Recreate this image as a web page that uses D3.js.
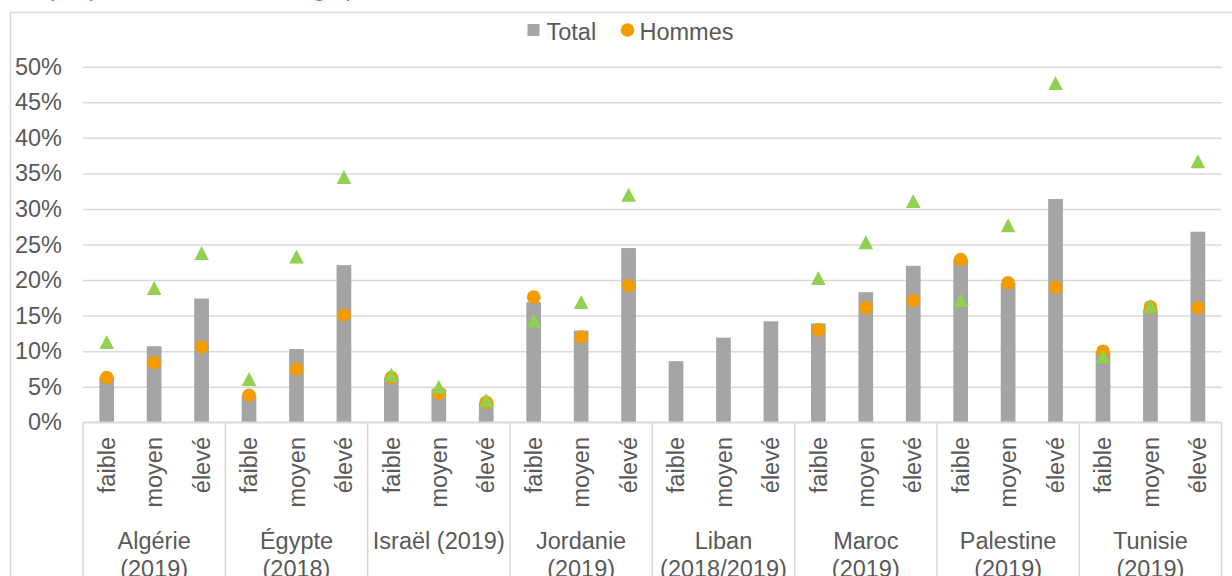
<!DOCTYPE html>
<html>
<head>
<meta charset="utf-8">
<script src="https://cdn.jsdelivr.net/npm/d3@7.9.0/dist/d3.min.js"></script>
<style>
  body { margin: 0; background: #fff; }
  svg { display: block; font-family: "Liberation Sans", Arial, sans-serif; }
  text { fill: #595959; }
</style>
</head>
<body>
<svg id="chart" width="1232" height="576"></svg>
<script>
// data (percent)
let countries = ["Algérie (2019)", "Égypte (2018)", "Israël (2019)", "Jordanie (2019)",
                 "Liban (2018/2019)", "Maroc (2019)", "Palestine (2019)", "Tunisie (2019)"];
let levels = ["faible", "moyen", "élevé"];

let total = [
    [6.4, 10.7, 17.4], [3.8, 10.3, 22.1], [6.3, 4.7, 2.8], [16.9, 12.9, 24.5],
    [8.6, 11.9, 14.2], [13.9, 18.3, 22.0], [22.9, 19.6, 31.4], [9.9, 15.9, 26.8]
];
let hommes = [
    [6.3, 8.4, 10.6], [3.8, 7.5, 15.1], [6.3, 4.1, 2.8], [17.6, 12.0, 19.2],
    [null, null, null], [13.0, 16.1, 17.1], [22.9, 19.6, 19.0], [10.0, 16.2, 16.1]
];
let femmes = [
    [11.3, 18.9, 23.8], [6.1, 23.3, 34.5], [6.7, 5.0, 3.1], [14.3, 16.9, 32.0],
    [null, null, null], [20.3, 25.3, 31.1], [17.2, 27.7, 47.7], [9.3, 16.4, 36.7]
];
let yTicks = [0, 5, 10, 15, 20, 25, 30, 35, 40, 45, 50];

let fontSize = 23.5;
let grid = "#d9d9d9";
let gray = "#a5a5a5", orange = "#f39c00", green = "#92d050";

let svg = d3.select("#chart");

// frame of the chart area (only top and left edges are visible)
svg.append("path")
    .attr("d", "M10.5,600 V12.5 H1240")
    .attr("fill", "none")
    .attr("stroke", grid)
    .attr("stroke-width", 1.5);

// title, cut off above the picture
svg.append("text")
    .attr("x", 12).attr("y", -4.5)
    .attr("font-size", 23)
    .style("fill", "#e8418b")
    .text("Graphique 3 : Taux de chômage par niveau d'éducation");

let plotLeft = 83, plotRight = 1221.6, plotTop = 66.7, plotBottom = 422.3;

let x0 = d3.scaleBand().domain(countries).range([plotLeft, plotRight]).padding(0);
let x1 = d3.scaleBand().domain(levels).range([0, x0.bandwidth()]).padding(0);
let y = d3.scaleLinear().domain([0, 50]).range([plotBottom, plotTop]);
let barW = x1.bandwidth() * 0.31;

// y axis with gridlines
let yAxis = d3.axisLeft(y)
    .tickValues(yTicks)
    .tickFormat(d => d + "%")
    .tickSizeInner(-(plotRight - plotLeft))
    .tickSizeOuter(0)
    .tickPadding(21);

let gy = svg.append("g")
    .attr("transform", `translate(${plotLeft},0)`)
    .call(yAxis);
gy.select(".domain").remove();
gy.selectAll("line").attr("stroke", grid).attr("stroke-width", 1.5);
gy.selectAll("text")
    .attr("font-size", fontSize)
    .style("fill", "#595959");
gy.attr("font-family", null).attr("font-size", null);

// flatten to one row per bar
let rows = [];
countries.forEach((c, i) => {
    levels.forEach((l, j) => {
        rows.push({ country: c, level: l, total: total[i][j], hommes: hommes[i][j], femmes: femmes[i][j] });
    });
});
let cx = d => x0(d.country) + x1(d.level) + x1.bandwidth() / 2;

// bars
svg.append("g").selectAll("rect")
    .data(rows)
    .join("rect")
    .attr("x", d => cx(d) - barW / 2)
    .attr("y", d => y(d.total))
    .attr("width", barW)
    .attr("height", d => y(0) - y(d.total))
    .attr("fill", gray);

// x axis line and group separators
svg.append("line")
    .attr("x1", plotLeft).attr("x2", plotRight)
    .attr("y1", plotBottom).attr("y2", plotBottom)
    .attr("stroke", grid).attr("stroke-width", 1.5);

let bounds = countries.map(c => x0(c)).concat([plotRight]);
svg.append("g").selectAll("line")
    .data(bounds)
    .join("line")
    .attr("x1", d => d).attr("x2", d => d)
    .attr("y1", plotBottom).attr("y2", 600)
    .attr("stroke", grid).attr("stroke-width", 1.5);

// hommes (circles)
svg.append("g").selectAll("circle")
    .data(rows.filter(d => d.hommes != null))
    .join("circle")
    .attr("cx", cx)
    .attr("cy", d => y(d.hommes))
    .attr("r", 6.8)
    .attr("fill", orange);

// femmes (triangles)
let tri = "M0,-7 L7.3,7 L-7.3,7 Z";
svg.append("g").selectAll("path")
    .data(rows.filter(d => d.femmes != null))
    .join("path")
    .attr("d", tri)
    .attr("transform", d => `translate(${cx(d)},${y(d.femmes)})`)
    .attr("fill", green);

// level labels, rotated
svg.append("g").selectAll("text")
    .data(rows)
    .join("text")
    .attr("transform", d => `translate(${cx(d)},437) rotate(-90)`)
    .attr("dy", "0.35em")
    .attr("text-anchor", "end")
    .attr("font-size", fontSize)
    .text(d => d.level);

// country labels, wrapped when too wide for the group
let groupLabels = svg.append("g").selectAll("text")
    .data(countries)
    .join("text")
    .attr("x", d => x0(d) + x0.bandwidth() / 2)
    .attr("y", 549)
    .attr("text-anchor", "middle")
    .attr("font-size", fontSize)
    .text(d => d);

groupLabels.each(function (d) {
    let t = d3.select(this);
    if (this.getComputedTextLength() > x0.bandwidth() - 6) {
        let k = d.lastIndexOf(" ");
        let xPos = t.attr("x");
        t.text(null);
        t.append("tspan").attr("x", xPos).text(d.slice(0, k));
        t.append("tspan").attr("x", xPos).attr("dy", 27.5).text(d.slice(k + 1));
    }
});

// legend
let legend = svg.append("g");
legend.append("rect")
    .attr("x", 527.5).attr("y", 24).attr("width", 12).attr("height", 12)
    .attr("fill", gray);
legend.append("text")
    .attr("x", 546.5).attr("y", 40)
    .attr("font-size", fontSize)
    .text("Total");
legend.append("circle")
    .attr("cx", 627.5).attr("cy", 30).attr("r", 6.8)
    .attr("fill", orange);
legend.append("text")
    .attr("x", 639.5).attr("y", 40)
    .attr("font-size", fontSize)
    .text("Hommes");
</script>
</body>
</html>
